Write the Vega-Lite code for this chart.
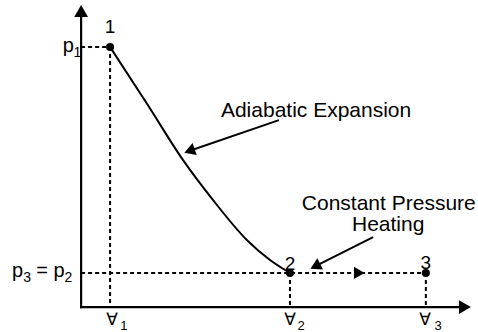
{
  "$schema": "https://vega.github.io/schema/vega-lite/v6.json",
  "width": 478,
  "height": 332,
  "autosize": {"type": "none"},
  "padding": 0,
  "background": "white",
  "config": {"view": {"stroke": null}, "font": "Liberation Sans"},
  "encoding": {
    "x": {"field": "V", "type": "quantitative", "scale": {"domain": [-2.8, 13.7], "nice": false, "zero": false}, "axis": null},
    "y": {"field": "p", "type": "quantitative", "scale": {"domain": [-0.96, 11.81], "nice": false, "zero": false}, "axis": null}
  },
  "layer": [
    {
      "data": {"values": [
        {"V": 0, "p": 10, "V2": 1, "p2": 10},
        {"V": 1, "p": 10, "V2": 1, "p2": 0},
        {"V": 0, "p": 1.31, "V2": 11.9, "p2": 1.31},
        {"V": 7.21, "p": 1.31, "V2": 7.21, "p2": 0},
        {"V": 11.9, "p": 1.31, "V2": 11.9, "p2": 0}
      ]},
      "mark": {"type": "rule", "color": "black", "strokeWidth": 2, "strokeDash": [4, 3]},
      "encoding": {"x2": {"field": "V2"}, "y2": {"field": "p2"}}
    },
    {
      "data": {"values": [
        {"V": 0, "p": 0, "V2": 13.1, "p2": 0},
        {"V": 0, "p": 0, "V2": 0, "p2": 11.2}
      ]},
      "mark": {"type": "rule", "color": "black", "strokeWidth": 2.2, "strokeCap": "square"},
      "encoding": {"x2": {"field": "V2"}, "y2": {"field": "p2"}}
    },
    {
      "data": {"values": [
        {"V": 1, "p": 10},
        {"V": 2.28, "p": 7.81},
        {"V": 3.52, "p": 5.65},
        {"V": 4.55, "p": 4.12},
        {"V": 5.72, "p": 2.58},
        {"V": 6.52, "p": 1.81},
        {"V": 7.21, "p": 1.31}
      ]},
      "mark": {"type": "line", "color": "black", "strokeWidth": 2, "interpolate": "monotone"},
      "encoding": {}
    },
    {
      "data": {"values": [
        {"V": 6.83, "p": 7.19, "V2": 3.8, "p2": 6.03},
        {"V": 10.08, "p": 2.69, "V2": 8.14, "p2": 1.6}
      ]},
      "mark": {"type": "rule", "color": "black", "strokeWidth": 2},
      "encoding": {"x2": {"field": "V2"}, "y2": {"field": "p2"}}
    },
    {
      "data": {"values": [{"V": 0, "p": 11.31}]},
      "mark": {"type": "point", "shape": "triangle", "filled": true, "color": "black", "opacity": 1, "size": 190, "angle": 0}
    },
    {
      "data": {"values": [{"V": 13.18, "p": 0}]},
      "mark": {"type": "point", "shape": "triangle", "filled": true, "color": "black", "opacity": 1, "size": 190, "angle": 90}
    },
    {
      "data": {"values": [{"V": 9.54, "p": 1.31}]},
      "mark": {"type": "point", "shape": "triangle", "filled": true, "color": "black", "opacity": 1, "size": 150, "angle": 90}
    },
    {
      "data": {"values": [{"V": 3.8, "p": 6.03}]},
      "mark": {"type": "point", "shape": "triangle", "filled": true, "color": "black", "opacity": 1, "size": 160, "angle": 251}
    },
    {
      "data": {"values": [{"V": 8.14, "p": 1.6}]},
      "mark": {"type": "point", "shape": "triangle", "filled": true, "color": "black", "opacity": 1, "size": 160, "angle": 243}
    },
    {
      "data": {"values": [
        {"state": "1", "V": 1, "p": 10},
        {"state": "2", "V": 7.21, "p": 1.31},
        {"state": "3", "V": 11.9, "p": 1.31}
      ]},
      "mark": {"type": "point", "shape": "circle", "filled": true, "color": "black", "opacity": 1, "size": 65}
    },
    {
      "data": {"values": [
        {"t": "Adiabatic Expansion", "V": 8.11, "p": 7.31},
        {"t": "Constant Pressure", "V": 10.62, "p": 3.75},
        {"t": "Heating", "V": 10.6, "p": 2.93}
      ]},
      "mark": {"type": "text", "color": "black", "fontSize": 21, "align": "center", "baseline": "alphabetic"},
      "encoding": {"text": {"field": "t"}}
    },
    {
      "data": {"values": [
        {"t": "1", "V": 1, "p": 10.53},
        {"t": "2", "V": 7.21, "p": 1.42},
        {"t": "3", "V": 11.9, "p": 1.45}
      ]},
      "mark": {"type": "text", "color": "black", "fontSize": 19, "align": "center", "baseline": "alphabetic"},
      "encoding": {"text": {"field": "t"}}
    },
    {
      "data": {"values": [{"t": "p", "V": -0.246, "p": 9.81}]},
      "mark": {"type": "text", "color": "black", "fontSize": 20, "align": "right", "baseline": "alphabetic"},
      "encoding": {"text": {"field": "t"}}
    },
    {
      "data": {"values": [
        {"t": "p", "V": -2.386, "p": 1.17},
        {"t": "= p", "V": -1.547, "p": 1.17}
      ]},
      "mark": {"type": "text", "color": "black", "fontSize": 20, "align": "left", "baseline": "alphabetic"},
      "encoding": {"text": {"field": "t"}}
    },
    {
      "data": {"values": [
        {"t": "1", "V": -0.263, "p": 9.63},
        {"t": "3", "V": -1.999, "p": 0.98},
        {"t": "2", "V": -0.574, "p": 0.98}
      ]},
      "mark": {"type": "text", "color": "black", "fontSize": 14, "align": "left", "baseline": "alphabetic"},
      "encoding": {"text": {"field": "t"}}
    },
    {
      "data": {"values": [
        {"t": "1", "V": 1.353, "p": -0.9},
        {"t": "2", "V": 7.469, "p": -0.9},
        {"t": "3", "V": 12.198, "p": -0.9}
      ]},
      "mark": {"type": "text", "color": "black", "fontSize": 13, "align": "left", "baseline": "alphabetic"},
      "encoding": {"text": {"field": "t"}}
    },
    {
      "data": {"values": [
        {"t": "∀", "V": 1.066, "p": -0.69},
        {"t": "∀", "V": 7.21, "p": -0.69},
        {"t": "∀", "V": 11.87, "p": -0.69}
      ]},
      "mark": {"type": "text", "color": "black", "fontSize": 17, "font": "DejaVu Sans", "align": "center", "baseline": "alphabetic"},
      "encoding": {"text": {"field": "t"}}
    }
  ]
}
